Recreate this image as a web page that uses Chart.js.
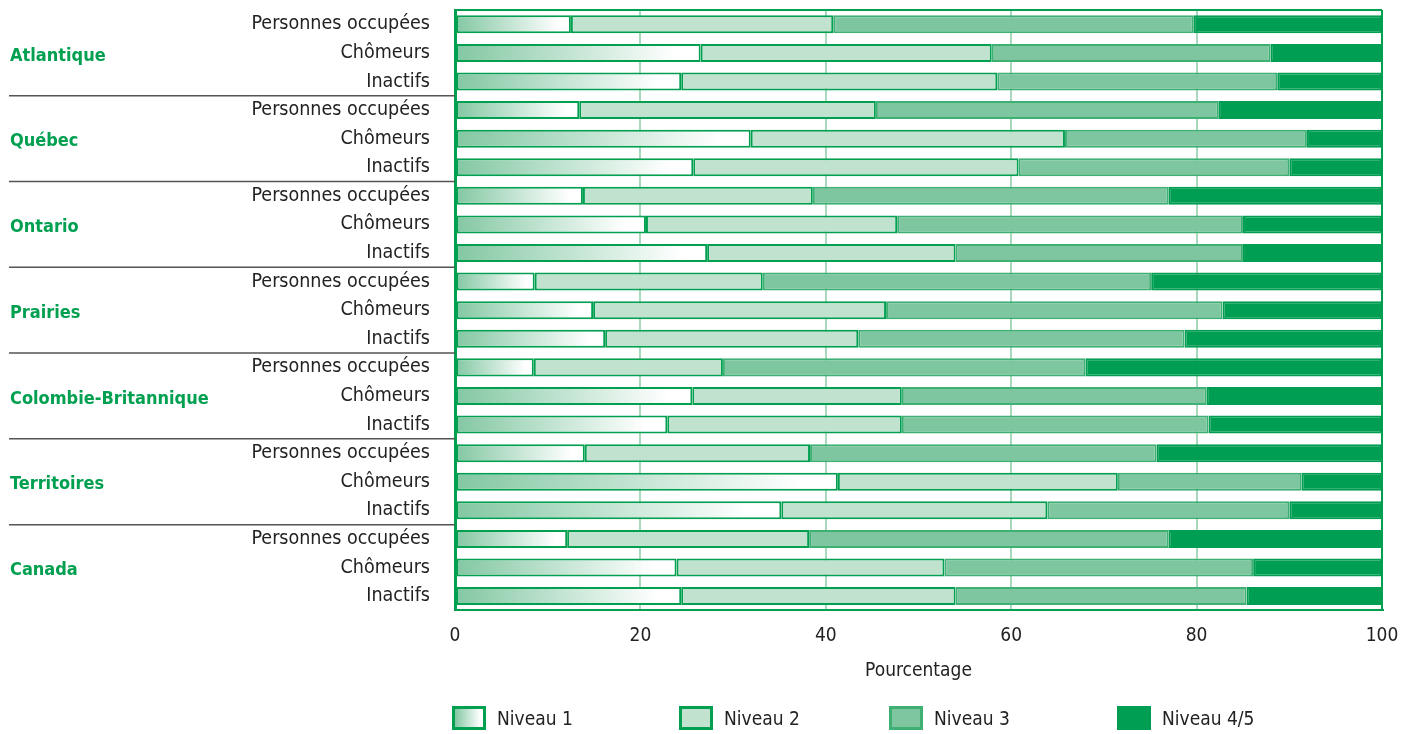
<!DOCTYPE html>
<html>
<head>
<meta charset="utf-8">
<script src="https://cdn.jsdelivr.net/npm/chart.js@4"></script>
<style>
  body { margin: 0; background: #fff; }
  #wrap { position: relative; width: 1408px; height: 734px; }
  #legend { position: absolute; top: 706px; left: 0; width: 1408px; height: 26px;
    font-family: 'Liberation Sans Narrow', 'DejaVu Sans Condensed', sans-serif; font-size: 19px; color: #222; }
  .item { position: absolute; top: 0; display: flex; align-items: center; height: 24px; }
  .sw { width: 34px; height: 24px; box-sizing: border-box; border: 3px solid #00a050; margin-right: 11px; }
</style>
</head>
<body>
<div id="wrap">
  <canvas id="chart"></canvas>
  <div id="legend"></div>
</div>
<script>
var regions = ['Atlantique', 'Québec', 'Ontario', 'Prairies', 'Colombie-Britannique', 'Territoires', 'Canada'];
var groups = ['Personnes occupées', 'Chômeurs', 'Inactifs'];
var xTicks = [0, 20, 40, 60, 80, 100];

// one value per row, rows go region by region (occupées, chômeurs, inactifs)
var niveau1 = [12.5, 26.5, 24.4, 13.4, 31.9, 25.7, 13.8, 20.6, 27.2, 8.6, 14.9, 16.2, 8.5, 25.6, 22.9, 14.0, 41.3, 35.2, 12.1, 23.9, 24.4];
var niveau2 = [28.3, 31.4, 34.1, 32.0, 33.9, 35.1, 24.8, 27.1, 26.8, 24.6, 31.6, 27.3, 20.4, 22.6, 25.3, 24.3, 30.2, 28.7, 26.1, 28.9, 29.6];
var niveau3 = [38.9, 30.1, 30.2, 37.0, 26.1, 29.2, 38.4, 37.3, 31.0, 41.9, 36.3, 35.2, 39.1, 32.9, 33.1, 37.4, 19.8, 26.1, 38.8, 33.3, 31.4];
var niveau45 = [20.3, 12.0, 11.3, 17.6, 8.1, 10.0, 23.0, 15.0, 15.0, 24.9, 17.2, 21.3, 32.0, 18.9, 18.7, 24.3, 8.7, 10.0, 23.0, 13.9, 14.6];

var FONT = "'Liberation Sans Narrow', 'DejaVu Sans Condensed', sans-serif";
var GREEN = '#00a050';

var labels = [];
regions.forEach(function(r) {
  groups.forEach(function(g) { labels.push(g); });
});

// fading fill for Niveau 1, from the axis to the end of the segment
function fade(context) {
  var chart = context.chart;
  var x = chart.scales.x;
  if (!x || !chart.chartArea || context.raw == null) return '#c0e2ce';
  var x0 = x.getPixelForValue(0);
  var x1 = x.getPixelForValue(context.raw);
  if (!isFinite(x0) || !isFinite(x1) || x1 <= x0) return '#c0e2ce';
  var g = chart.ctx.createLinearGradient(x0, 0, x1, 0);
  g.addColorStop(0, '#82c7a2');
  g.addColorStop(0.9, '#ffffff');
  g.addColorStop(1, '#ffffff');
  return g;
}

var groupPlugin = {
  id: 'groups',
  afterDraw: function(chart) {
    var ctx = chart.ctx;
    var y = chart.scales.y;
    var area = chart.chartArea;
    ctx.save();
    // top frame line
    ctx.strokeStyle = GREEN;
    ctx.lineWidth = 2;
    ctx.beginPath();
    ctx.moveTo(area.left, area.top);
    ctx.lineTo(area.right, area.top);
    ctx.stroke();

    ctx.font = 'bold 18px ' + FONT;
    ctx.fillStyle = GREEN;
    ctx.textBaseline = 'middle';
    regions.forEach(function(r, i) {
      ctx.fillText(r, 10, y.getPixelForValue(i * 3 + 1) + 3);
      if (i < regions.length - 1) {
        var yy = (y.getPixelForValue(i * 3 + 2) + y.getPixelForValue(i * 3 + 3)) / 2;
        ctx.strokeStyle = '#555';
        ctx.lineWidth = 1.5;
        ctx.beginPath();
        ctx.moveTo(9, yy);
        ctx.lineTo(area.left, yy);
        ctx.stroke();
      }
    });
    ctx.restore();
  }
};

function ds(label, data, bg, border) {
  return {
    label: label,
    data: data,
    backgroundColor: bg,
    borderColor: border,
    borderWidth: 2,
    borderSkipped: false,
    categoryPercentage: 1,
    barPercentage: 0.63
  };
}

var ctx = document.getElementById('chart').getContext('2d');
var chart = new Chart(ctx, {
  type: 'bar',
  data: {
    labels: labels,
    datasets: [
      ds('Niveau 1', niveau1, fade, GREEN),
      ds('Niveau 2', niveau2, '#c0e2ce', GREEN),
      ds('Niveau 3', niveau3, '#7dc6a0', '#3fb074'),
      ds('Niveau 4/5', niveau45, '#009e52', '#009e52')
    ]
  },
  options: {
    indexAxis: 'y',
    responsive: true,
    maintainAspectRatio: false,
    animation: false,
    layout: { padding: { top: 10, right: 26, bottom: 52, left: 0 } },
    plugins: {
      legend: { display: false },
      tooltip: { enabled: false }
    },
    scales: {
      x: {
        stacked: true,
        min: 0,
        max: 100,
        afterBuildTicks: function(scale) {
          scale.ticks = xTicks.map(function(v) { return { value: v }; });
        },
        afterFit: function(scale) { scale.paddingLeft = 0; scale.paddingRight = 0; },
        grid: {
          drawTicks: false,
          color: function(c) { return (c.tick && (c.tick.value === 0 || c.tick.value === 100)) ? GREEN : '#a8d9bc'; },
          lineWidth: function(c) { return (c.tick && c.tick.value === 0) ? 3 : 2; }
        },
        border: { display: true, color: GREEN, width: 2 },
        ticks: { font: { family: FONT, size: 19 }, color: '#222', padding: 14 },
        title: {
          display: true,
          text: 'Pourcentage',
          font: { family: FONT, size: 19 },
          color: '#222',
          padding: { top: -2, bottom: 0 }
        }
      },
      y: {
        stacked: true,
        afterFit: function(scale) { scale.width = 455; scale.paddingTop = 0; scale.paddingBottom = 0; },
        grid: { display: false },
        border: { display: true, color: GREEN, width: 3 },
        ticks: { autoSkip: false, font: { family: FONT, size: 19.5 }, color: '#222', padding: 17 }
      }
    }
  },
  plugins: [groupPlugin]
});

// legend under the chart
var legendItems = [
  { text: 'Niveau 1', bg: 'linear-gradient(to right, #82c7a2, #ffffff 90%)', left: 452 },
  { text: 'Niveau 2', bg: '#c0e2ce', left: 679 },
  { text: 'Niveau 3', bg: '#7dc6a0', left: 889 },
  { text: 'Niveau 4/5', bg: '#009e52', left: 1117 }
];
var leg = document.getElementById('legend');
legendItems.forEach(function(it) {
  var d = document.createElement('div');
  d.className = 'item';
  d.style.left = it.left + 'px';
  var s = document.createElement('span');
  s.className = 'sw';
  s.style.background = it.bg;
  if (it.text === 'Niveau 3') s.style.borderColor = '#3fb074';
  if (it.text === 'Niveau 4/5') s.style.borderColor = '#009e52';
  d.appendChild(s);
  d.appendChild(document.createTextNode(it.text));
  leg.appendChild(d);
});
</script>
</body>
</html>
